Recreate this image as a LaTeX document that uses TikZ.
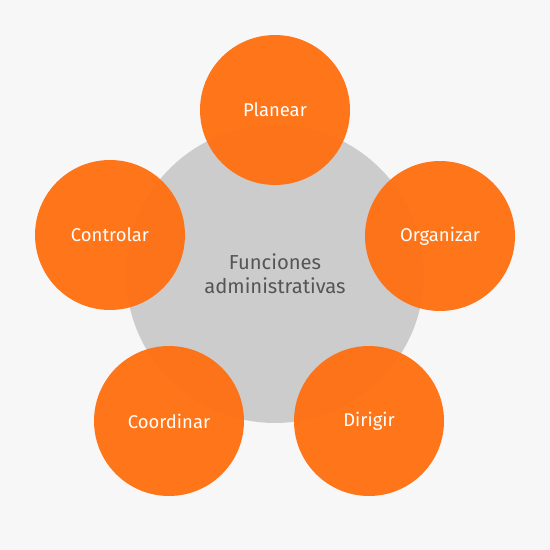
\documentclass[tikz,border=0pt]{standalone}
\usepackage{fontspec}
\setmainfont{Fira Sans}
\definecolor{bgcol}{HTML}{F7F7F7}
\definecolor{hubcol}{HTML}{CCCCCC}
\definecolor{hubtext}{HTML}{555555}
\definecolor{funcorange}{HTML}{FF7012}
\tikzset{
  hub/.style={circle, fill=hubcol, minimum size=5.96cm, inner sep=0pt,
    text=hubtext, align=center, font=\fontsize{11.5}{13.5}\selectfont},
  funcion/.style={circle, fill=funcorange, fill opacity=0.96, text opacity=1,
    minimum size=3cm, inner sep=0pt, text=white, font=\fontsize{10.5}{12}\selectfont}
}
\begin{document}
\begin{tikzpicture}[x=0.02cm, y=-0.02cm]
    \fill[bgcol] (0, 0) rectangle (550, 550);
    \node[hub] (centro) at (275, 274) {Funciones\\administrativas};
    \node[funcion] (planear) at (275, 110) {Planear};
    \node[funcion] (organizar) at (440, 236) {Organizar};
    \node[funcion] (dirigir) at (369, 421) {Dirigir};
    \node[funcion] (coordinar) at (169, 421) {Coordinar};
    \node[funcion] (controlar) at (110, 235) {Controlar};
\end{tikzpicture}
\end{document}
